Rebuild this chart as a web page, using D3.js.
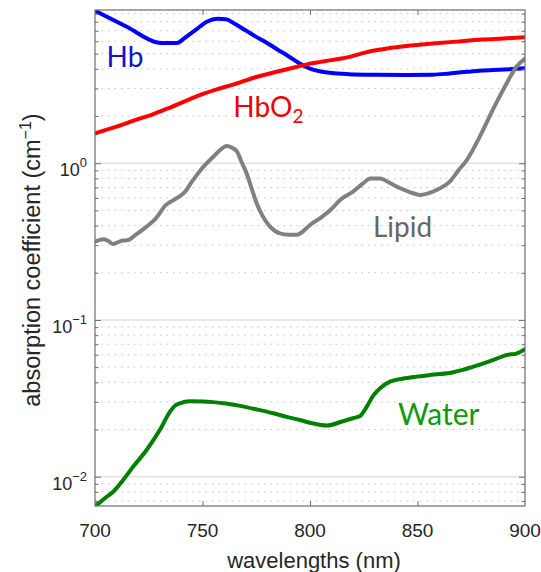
<!DOCTYPE html>
<html>
<head>
<meta charset="utf-8">
<script src="https://cdn.jsdelivr.net/npm/d3@7/dist/d3.min.js"></script>
<style>
  html, body { margin: 0; padding: 0; background: #fff; }
  svg { display: block; }
</style>
</head>
<body>
<svg id="chart" width="541" height="572"></svg>
<script>
// Absorption spectra in the NIR window (700–900 nm), log scale.
const hbWavelength = [700, 715, 729, 732, 738, 742, 747, 752, 757, 761, 765, 770, 775, 780, 785, 790, 795, 800, 805, 810, 818, 830, 845, 857, 865, 873, 880, 888, 900];
const hbAbs        = [9.4, 7.4, 5.9, 5.85, 5.85, 6.34, 7.12, 8.0, 8.35, 8.3, 7.75, 7.05, 6.4, 5.85, 5.3, 4.82, 4.35, 4.02, 3.85, 3.76, 3.7, 3.67, 3.66, 3.67, 3.74, 3.83, 3.9, 3.95, 4.03];

const hbo2Wavelength = [700, 710, 720, 726, 736, 749, 757, 765, 775, 785, 794, 800, 810, 819, 826, 838, 850, 860, 868, 880, 890, 900];
const hbo2Abs        = [1.55, 1.71, 1.91, 2.03, 2.3, 2.73, 2.97, 3.2, 3.55, 3.85, 4.13, 4.32, 4.55, 4.79, 5.1, 5.45, 5.69, 5.85, 5.97, 6.15, 6.25, 6.37];

const lipidWavelength = [700, 704, 706, 708.5, 711, 713, 715, 719, 724, 728, 733, 738, 742, 745, 749, 752, 755, 759, 761.2, 763, 766, 768, 770.5, 773, 775.2, 778, 781.4, 786, 790, 794, 797, 800, 804.7, 810, 814, 820, 825, 828, 832.6, 837, 842, 847, 851.2, 856, 860.5, 865, 869, 873, 879, 885, 891.5, 896, 900];
const lipidAbs        = [0.316, 0.327, 0.32, 0.305, 0.315, 0.321, 0.322, 0.35, 0.394, 0.44, 0.542, 0.598, 0.66, 0.76, 0.9, 1.0, 1.1, 1.24, 1.29, 1.27, 1.19, 1.03, 0.864, 0.68, 0.556, 0.46, 0.394, 0.357, 0.35, 0.35, 0.37, 0.404, 0.446, 0.51, 0.583, 0.659, 0.75, 0.8, 0.8, 0.75, 0.692, 0.65, 0.628, 0.65, 0.692, 0.763, 0.9, 1.05, 1.48, 2.19, 3.24, 4.13, 4.65];

const waterWavelength = [700, 702, 705.4, 708.5, 713, 717.8, 724, 730.2, 734.9, 737, 739.5, 744, 750, 755, 761, 767.4, 775, 782.9, 790, 795.3, 800, 807.8, 815, 820, 823.3, 826.4, 829.5, 832.6, 837.2, 843, 849.6, 858, 866.7, 871, 876, 881, 885.3, 891.5, 896, 900];
const waterAbs        = [0.0065, 0.0068, 0.00745, 0.00802, 0.0095, 0.0116, 0.0148, 0.0199, 0.026, 0.0282, 0.0294, 0.0303, 0.0302, 0.0299, 0.0293, 0.0283, 0.0269, 0.0254, 0.0239, 0.023, 0.0221, 0.0212, 0.0225, 0.0236, 0.0244, 0.028, 0.033, 0.0367, 0.0404, 0.0422, 0.0435, 0.0448, 0.0464, 0.048, 0.0504, 0.053, 0.0556, 0.0598, 0.061, 0.065];

const xTickValues = [700, 750, 800, 850, 900];
const yMajorTicks = [0.01, 0.1, 1];
const yTickExponents = ["-2", "-1", "0"];

const seriesNames = ["Hb", "HbO2", "Lipid", "Water"];
const labelWavelength = [705.4, 764.3, 829.3, 840.9];
const labelAbs = [4.14, 1.97, 0.337, 0.0214];

const series = [
  { name: "Hb",    wl: hbWavelength,    abs: hbAbs,    color: "#0000ff", text: "#1212c8" },
  { name: "HbO2",  wl: hbo2Wavelength,  abs: hbo2Abs,  color: "#ff0000", text: "#f00000" },
  { name: "Lipid", wl: lipidWavelength, abs: lipidAbs, color: "#808080", text: "#666666" },
  { name: "Water", wl: waterWavelength, abs: waterAbs, color: "#008000", text: "#0d9a0d" }
];

const margin = { left: 95, right: 16, top: 10, bottom: 66 };
const W = 541, H = 572;
const plotW = W - margin.left - margin.right;
const plotH = H - margin.top - margin.bottom;

const svg = d3.select("#chart");
const g = svg.append("g").attr("transform", `translate(${margin.left},${margin.top})`);

const x = d3.scaleLinear().domain([700, 900]).range([0, plotW]);
const y = d3.scaleLog().domain([0.0065, 9.5]).range([plotH, 0]);

// minor ticks 2..9 in every decade inside the domain
const minorTicks = [];
[0.001, 0.01, 0.1, 1].forEach(d => {
  for (let k = 2; k <= 9; k++) {
    const v = d * k;
    if (v >= 0.0065 && v <= 9.5) minorTicks.push(v);
  }
});

// grid
const grid = g.append("g");
grid.selectAll("line.minor").data(minorTicks).join("line")
  .attr("x1", 0).attr("x2", plotW)
  .attr("y1", d => y(d)).attr("y2", d => y(d))
  .attr("stroke", "#c4c4c4").attr("stroke-width", 1)
  .attr("stroke-dasharray", "1.5,5");
grid.selectAll("line.major").data(yMajorTicks).join("line")
  .attr("x1", 0).attr("x2", plotW)
  .attr("y1", d => y(d)).attr("y2", d => y(d))
  .attr("stroke", "#e3e3e3").attr("stroke-width", 1.5);

// curves
g.append("clipPath").attr("id", "plotClip")
  .append("rect").attr("x", 0).attr("y", 0).attr("width", plotW).attr("height", plotH);

const line = d3.line()
  .x(d => x(d[0]))
  .y(d => y(d[1]))
  .curve(d3.curveMonotoneX);

const curves = g.append("g").attr("clip-path", "url(#plotClip)");
series.forEach(s => {
  const pts = s.wl.map((w, i) => [w, s.abs[i]]);
  curves.append("path")
    .datum(pts)
    .attr("d", line)
    .attr("fill", "none")
    .attr("stroke", s.color)
    .attr("stroke-width", 4)
    .attr("stroke-linejoin", "round")
    .attr("stroke-linecap", "round");
});

// axes box and ticks
const axisColor = "#6e6e6e";
function styleAxis(sel) {
  sel.select(".domain").remove();
  sel.selectAll(".tick line").attr("stroke", axisColor).attr("stroke-width", 1);
  sel.selectAll(".tick text").remove();
}

const innerX = [750, 800, 850];
g.append("g").attr("transform", `translate(0,${plotH})`)
  .call(d3.axisBottom(x).tickValues(innerX).tickSize(-5)).call(styleAxis);
g.append("g")
  .call(d3.axisTop(x).tickValues(innerX).tickSize(-5)).call(styleAxis);

const yTicksAll = yMajorTicks.concat(minorTicks);
const isMajor = d => yMajorTicks.includes(d);
const leftAx = g.append("g")
  .call(d3.axisLeft(y).tickValues(yTicksAll).tickSize(-5)).call(styleAxis);
leftAx.selectAll(".tick line").attr("x2", d => isMajor(d) ? 6 : 3.5);
const rightAx = g.append("g").attr("transform", `translate(${plotW},0)`)
  .call(d3.axisRight(y).tickValues(yTicksAll).tickSize(-5)).call(styleAxis);
rightAx.selectAll(".tick line").attr("x2", d => isMajor(d) ? -6 : -3.5);

g.append("rect")
  .attr("x", 0).attr("y", 0).attr("width", plotW).attr("height", plotH)
  .attr("fill", "none").attr("stroke", axisColor).attr("stroke-width", 1.2);

// tick labels
const tickFont = "'Liberation Sans', Arial, sans-serif";
const tickColor = "#262626";
g.append("g").selectAll("text").data(xTickValues).join("text")
  .attr("x", d => x(d)).attr("y", plotH + 31)
  .attr("text-anchor", "middle")
  .attr("font-family", tickFont).attr("font-size", 19)
  .attr("fill", tickColor)
  .text(d => d);

const yLab = g.append("g").selectAll("text").data(yMajorTicks).join("text")
  .attr("x", -8).attr("y", d => y(d) + 13)
  .attr("text-anchor", "end")
  .attr("font-family", tickFont).attr("font-size", 18)
  .attr("fill", tickColor);
yLab.append("tspan").text("10");
yLab.append("tspan").attr("dy", -9).attr("font-size", 13)
  .text((d, i) => yTickExponents[i].replace("-", "\u2212"));

// axis titles
svg.append("text")
  .attr("x", margin.left + plotW / 2 + 4).attr("y", 568)
  .attr("text-anchor", "middle")
  .attr("font-family", tickFont).attr("font-size", 22)
  .attr("fill", tickColor)
  .text("wavelengths (nm)");

const yTitle = svg.append("text")
  .attr("transform", `translate(40,${margin.top + plotH / 2 + 2}) rotate(-90)`)
  .attr("text-anchor", "middle")
  .attr("font-family", tickFont).attr("font-size", 23.5)
  .attr("fill", tickColor);
yTitle.append("tspan").text("absorption coefficient (cm");
yTitle.append("tspan").attr("dy", -9).attr("font-size", 16).text("\u22121");
yTitle.append("tspan").attr("dy", 9).text(")");

// series labels
const labelFont = "Lato, 'Open Sans', sans-serif";
series.forEach((s, i) => {
  const t = g.append("text")
    .attr("x", x(labelWavelength[i])).attr("y", y(labelAbs[i]))
    .attr("font-family", labelFont)
    .attr("font-size", s.name === "Water" ? 30 : 28)
    .attr("fill", s.text);
  if (s.name === "HbO2") {
    t.append("tspan").text("HbO");
    t.append("tspan").attr("dy", 6).attr("font-size", 19).text("2");
  } else {
    t.text(seriesNames[i]);
  }
});
</script>
</body>
</html>
